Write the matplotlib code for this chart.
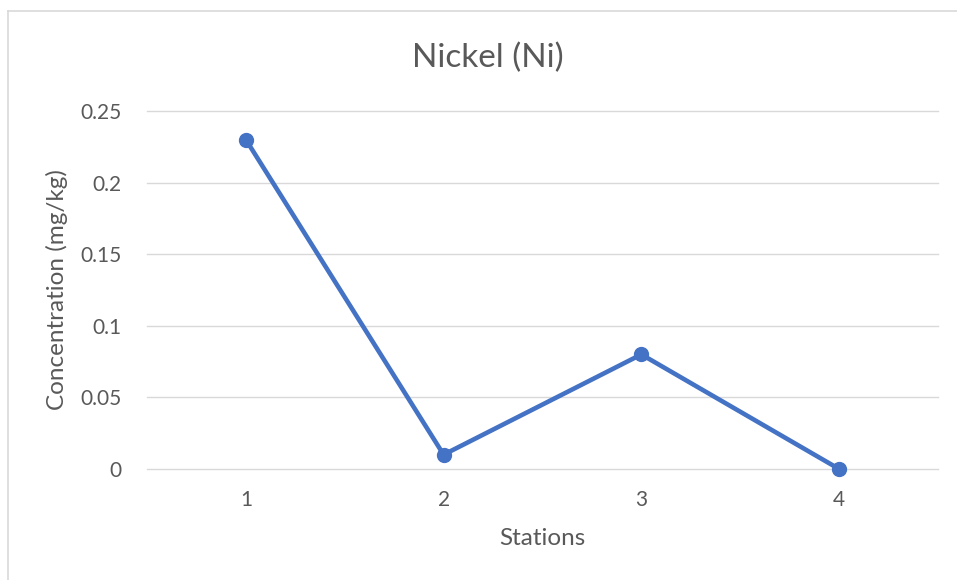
import matplotlib
matplotlib.use('Agg')
import matplotlib.pyplot as plt
from matplotlib.lines import Line2D

stations = ['1', '2', '3', '4']
concentration = [0.23, 0.01, 0.08, 0.0]
yticks = [0, 0.05, 0.1, 0.15, 0.2, 0.25]
ytick_labels = ['0', '0.05', '0.1', '0.15', '0.2', '0.25']

plt.rcParams['font.family'] = ['Lato', 'DejaVu Sans']
grey = '#595959'

fig = plt.figure(figsize=(9.57, 5.8), dpi=100)
ax = fig.add_axes([0.1536, 0.1914, 0.8265, 0.6172])

x = list(range(1, len(stations) + 1))
ax.plot(x, concentration, color='#4472C4', linewidth=3.3, marker='o',
        markersize=10, zorder=3, clip_on=False)

ax.set_xlim(0.5, 4.5)
ax.set_ylim(0, 0.25)
ax.set_xticks(x)
ax.set_xticklabels(stations)
ax.set_yticks(yticks)
ax.set_yticklabels(ytick_labels)
ax.tick_params(axis='both', length=0, colors=grey, labelsize=15)
ax.tick_params(axis='x', pad=15)
ax.tick_params(axis='y', pad=18)
ax.grid(axis='y', color='#D9D9D9', linewidth=1)
for g in ax.get_ygridlines():
    g.set_clip_on(False)
for s in ax.spines.values():
    s.set_visible(False)

fig.text(488 / 957, 1 - 67 / 580, 'Nickel (Ni)', color=grey, fontsize=24,
         ha='center', va='baseline')
ax.set_xlabel('Stations', color=grey, fontsize=17.5, labelpad=13)
ax.set_ylabel('Concentration (mg/kg)', color=grey, fontsize=17.5, labelpad=9)

# chart border (only top and left visible in the crop)
fig.add_artist(Line2D([8 / 957, 8 / 957], [0, 1 - 11 / 580], transform=fig.transFigure,
                      color='#D9D9D9', linewidth=1.2))
fig.add_artist(Line2D([8 / 957, 1], [1 - 11 / 580, 1 - 11 / 580], transform=fig.transFigure,
                      color='#D9D9D9', linewidth=1.2))

fig.savefig('out.png', dpi=100)
